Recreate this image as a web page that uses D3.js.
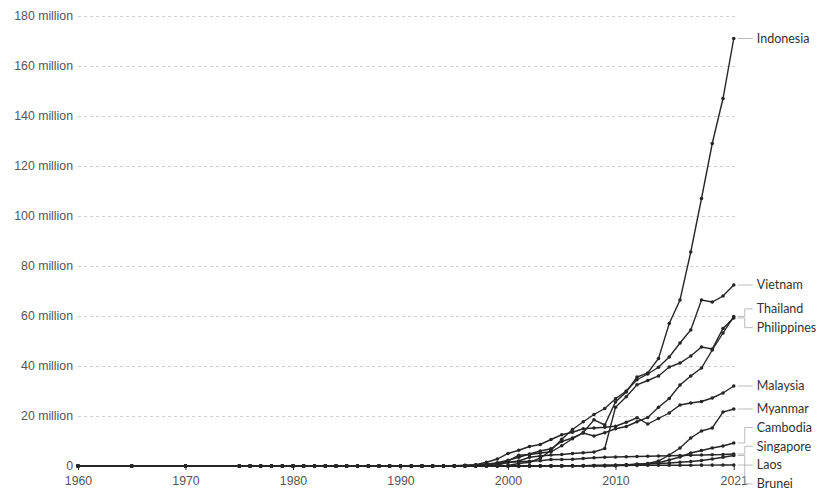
<!DOCTYPE html>
<html>
<head>
<meta charset="utf-8">
<script src="https://cdn.jsdelivr.net/npm/d3@7"></script>
<style>
  body { margin: 0; background: #fff; }
  svg { font-family: Lato, "Open Sans", sans-serif; }
  .grid line { stroke: #cfcfcf; stroke-dasharray: 3,3; }
  .grid .domain { display: none; }
  .axis .domain { display: none; }
  .axis text { fill: #555; font-size: 12.3px; }
  .axis line { stroke: #333; }
  .series { fill: none; stroke: #262626; stroke-width: 1.4; }
  .dot { fill: #262626; }
  .connector { fill: none; stroke: #aaa; stroke-width: 0.8; }
  .label { fill: #333; font-size: 12.5px; }
</style>
</head>
<body>
<svg></svg>
<script>
// Internet users (millions)
const years = [1960, 1965, 1970,
  1975, 1976, 1977, 1978, 1979, 1980, 1981, 1982, 1983, 1984, 1985, 1986, 1987, 1988, 1989,
  1990, 1991, 1992, 1993, 1994, 1995, 1996, 1997, 1998, 1999,
  2000, 2001, 2002, 2003, 2004, 2005, 2006, 2007, 2008, 2009,
  2010, 2011, 2012, 2013, 2014, 2015, 2016, 2017, 2018, 2019,
  2020, 2021];

const indonesia = [0, 0, 0,
  0, 0, 0, 0, 0, 0, 0, 0, 0, 0, 0, 0, 0, 0, 0,
  0, 0, 0, 0, 0.01, 0.05, 0.1, 0.2, 0.5, 0.9,
  2.0, 4.3, 4.6, 5.2, 5.7, 8.1, 10.9, 13.4, 18.5, 16.4,
  25.6, 29.6, 35.6, 37.2, 43.0, 57.0, 66.4, 85.6, 107, 129,
  147, 171];

const vietnam = [0, 0, 0,
  0, 0, 0, 0, 0, 0, 0, 0, 0, 0, 0, 0, 0, 0, 0,
  0, 0, 0, 0, 0, 0, 0, 0, 0.01, 0.1,
  0.2, 1.0, 1.5, 3.1, 6.3, 10.7, 14.6, 17.7, 20.6, 23.0,
  26.9, 30.0, 34.5, 36.8, 39.5, 43.6, 49.2, 54.4, 66.4, 65.6,
  68.0, 72.4];

const thailand = [0, 0, 0,
  0, 0, 0, 0, 0, 0, 0, 0, 0, 0, 0, 0, 0, 0, 0,
  0, 0, 0.01, 0.02, 0.05, 0.1, 0.2, 0.4, 0.7, 1.3,
  2.3, 3.5, 4.8, 6.0, 6.9, 9.8, 11.2, 13.2, 12.0, 13.3,
  14.9, 15.8, 17.7, 19.4, 23.5, 27.0, 32.4, 36.0, 39.2, 46.4,
  53.2, 59.8];

const philippines = [0, 0, 0,
  0, 0, 0, 0, 0, 0, 0, 0, 0, 0, 0, 0, 0, 0, 0,
  0, 0, 0, 0, 0.01, 0.03, 0.04, 0.1, 0.15, 0.3,
  1.5, 2.0, 3.5, 4.0, 4.4, 4.6, 5.0, 5.3, 5.6, 7.0,
  23.5, 27.7, 32.5, 34.2, 36.0, 39.6, 41.2, 44.0, 47.6, 46.8,
  55.0, 59.2];

const malaysia = [0, 0, 0,
  0, 0, 0, 0, 0, 0, 0, 0, 0, 0, 0, 0, 0, 0, 0,
  0, 0, 0, 0, 0, 0.03, 0.17, 0.5, 1.5, 2.8,
  5.0, 6.3, 7.8, 8.6, 10.6, 12.5, 13.5, 14.9, 15.2, 15.5,
  15.9, 17.5, 19.3, 16.8, 19.0, 21.2, 24.4, 25.2, 25.8, 27.2,
  29.2, 32.0];

const myanmar = [0, 0, 0,
  0, 0, 0, 0, 0, 0, 0, 0, 0, 0, 0, 0, 0, 0, 0,
  0, 0, 0, 0, 0, 0, 0, 0, 0, 0,
  0, 0.01, 0.02, 0.03, 0.04, 0.05, 0.1, 0.1, 0.1, 0.1,
  0.1, 0.5, 0.6, 1.0, 2.0, 4.4, 7.2, 11.2, 14.0, 15.2,
  21.6, 22.8];

const cambodia = [0, 0, 0,
  0, 0, 0, 0, 0, 0, 0, 0, 0, 0, 0, 0, 0, 0, 0,
  0, 0, 0, 0, 0, 0, 0, 0, 0, 0,
  0.01, 0.01, 0.03, 0.03, 0.04, 0.04, 0.05, 0.07, 0.08, 0.08,
  0.18, 0.43, 0.7, 0.9, 1.3, 2.4, 3.6, 5.2, 6.2, 7.2,
  8.0, 9.2];

const singapore = [0, 0, 0,
  0, 0, 0, 0, 0, 0, 0, 0, 0, 0, 0, 0, 0, 0, 0,
  0, 0.01, 0.02, 0.03, 0.05, 0.1, 0.3, 0.4, 0.8, 0.9,
  1.45, 1.7, 1.9, 2.1, 2.6, 2.6, 2.7, 3.0, 3.3, 3.5,
  3.6, 3.7, 3.8, 3.9, 4.0, 4.1, 4.2, 4.3, 4.4, 4.5,
  4.6, 4.8];

const laos = [0, 0, 0,
  0, 0, 0, 0, 0, 0, 0, 0, 0, 0, 0, 0, 0, 0, 0,
  0, 0, 0, 0, 0, 0, 0, 0, 0, 0,
  0.01, 0.01, 0.02, 0.02, 0.02, 0.05, 0.07, 0.1, 0.2, 0.3,
  0.4, 0.5, 0.7, 0.8, 1.0, 1.2, 1.5, 1.8, 2.2, 2.8,
  3.5, 4.2];

const brunei = [0, 0, 0,
  0, 0, 0, 0, 0, 0, 0, 0, 0, 0, 0, 0, 0, 0, 0,
  0, 0, 0, 0, 0, 0, 0.01, 0.01, 0.02, 0.03,
  0.03, 0.05, 0.05, 0.07, 0.12, 0.13, 0.16, 0.17, 0.18, 0.19,
  0.2, 0.22, 0.24, 0.26, 0.28, 0.29, 0.3, 0.32, 0.34, 0.36,
  0.38, 0.4];

const countries = ["Indonesia", "Vietnam", "Thailand", "Philippines", "Malaysia",
                   "Myanmar", "Cambodia", "Singapore", "Laos", "Brunei"];
const seriesValues = [indonesia, vietnam, thailand, philippines, malaysia,
                      myanmar, cambodia, singapore, laos, brunei];

const yTicks = [0, 20, 40, 60, 80, 100, 120, 140, 160, 180];
const xTicks = [1960, 1970, 1980, 1990, 2000, 2010, 2021];

const w = 834;
const h = 491;

const series = countries.map((name, i) => ({
  name: name,
  points: years.map((year, j) => ({ year: year, value: seriesValues[i][j] }))
}));

const xScale = d3.scaleLinear().domain([1960, 2021]).range([78, 733.75]);
const yScale = d3.scaleLinear().domain([0, 180]).range([466, 16]);

const chart = d3.select("svg").attr("width", w).attr("height", h);

// gridlines
chart.append("g")
     .attr("class", "grid")
     .attr("transform", "translate(78, 0)")
     .call(d3.axisLeft(yScale).tickValues(yTicks.slice(1)).tickSize(-(737 - 78)).tickFormat(""));

// y axis labels
chart.append("g")
     .attr("class", "axis")
     .attr("transform", "translate(77, 0)")
     .call(d3.axisLeft(yScale).tickValues(yTicks).tickSize(0).tickPadding(4)
             .tickFormat(d => d === 0 ? "0" : d + " million"));

// x axis
chart.append("g")
     .attr("class", "axis")
     .attr("transform", "translate(0, 466)")
     .call(d3.axisBottom(xScale).tickValues(xTicks).tickSize(4).tickPadding(6)
             .tickFormat(d3.format("d")));

const line = d3.line()
               .x(d => xScale(d.year))
               .y(d => yScale(d.value));

const groups = chart.append("g")
                    .selectAll("g")
                    .data(series)
                    .enter()
                    .append("g");

groups.append("path")
      .attr("class", "series")
      .attr("d", d => line(d.points));

groups.selectAll("circle")
      .data(d => d.points)
      .enter()
      .append("circle")
      .attr("class", "dot")
      .attr("cx", d => xScale(d.year))
      .attr("cy", d => yScale(d.value))
      .attr("r", 1.8);

// end labels, pushed apart so they don't overlap
const gap = 18.8;
const labels = series.map(s => {
  const last = s.points[s.points.length - 1];
  return { name: s.name, target: yScale(last.value), y: yScale(last.value) };
});
labels.sort((a, b) => a.target - b.target);
let clusters = labels.map(d => ({ members: [d], center: d.target }));
let merged = true;
while (merged) {
  merged = false;
  for (let i = 0; i < clusters.length - 1; i++) {
    const a = clusters[i], b = clusters[i + 1];
    const aBottom = a.center + (a.members.length - 1) * gap / 2;
    const bTop = b.center - (b.members.length - 1) * gap / 2;
    if (bTop - aBottom < gap) {
      const members = a.members.concat(b.members);
      clusters.splice(i, 2, { members: members, center: d3.mean(members, m => m.target) + 1 });
      merged = true;
      break;
    }
  }
}
clusters.forEach(c => c.members.forEach((m, i) => {
  m.y = c.center + (i - (c.members.length - 1) / 2) * gap;
}));

const x0 = xScale(2021) + 4;
const xMid = x0 + 7;
const x1 = x0 + 15;

chart.append("g")
     .selectAll("path")
     .data(labels)
     .enter()
     .append("path")
     .attr("class", "connector")
     .attr("d", d => Math.abs(d.y - d.target) < 0.5
        ? `M${x0},${d.target}H${x1}`
        : `M${x0},${d.target}H${xMid}V${d.y}H${x1}`);

chart.append("g")
     .selectAll("text")
     .data(labels)
     .enter()
     .append("text")
     .attr("class", "label")
     .attr("x", x1 + 4)
     .attr("y", d => d.y)
     .attr("dy", "0.35em")
     .text(d => d.name);
</script>
</body>
</html>
